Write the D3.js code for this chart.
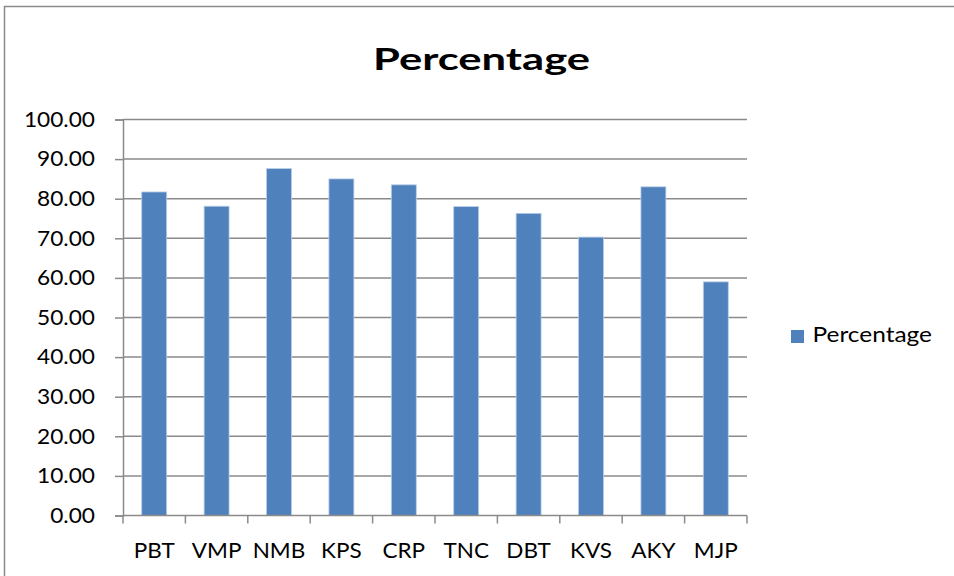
<!DOCTYPE html>
<html>
<head>
<meta charset="utf-8">
<script src="https://cdn.jsdelivr.net/npm/d3@7"></script>
<style>
  body { margin: 0; background: #fff; }
  svg { display: block; font-family: Lato, "Open Sans", sans-serif; }
</style>
</head>
<body>
<svg id="chart" width="954" height="576"></svg>
<script>
const categories = ['PBT', 'VMP', 'NMB', 'KPS', 'CRP', 'TNC', 'DBT', 'KVS', 'AKY', 'MJP'];
const percentage = [81.7, 78.1, 87.6, 85.0, 83.5, 78.0, 76.3, 70.3, 83.0, 59.0];
const yTicks = [0, 10, 20, 30, 40, 50, 60, 70, 80, 90, 100];
const seriesName = 'Percentage';

const svg = d3.select('#chart');
const plot = { left: 123, right: 747, top: 119.5, bottom: 515.5 };

// the reference text is a little wider than Lato, so stretch it
function stretch(sel, k) {
  sel.each(function () {
    const w = this.getComputedTextLength();
    d3.select(this).attr('textLength', w * k).attr('lengthAdjust', 'spacingAndGlyphs');
  });
}

// outer chart frame (runs off right and bottom edge)
svg.append('path')
  .attr('d', 'M4.5,580 L4.5,6.5 L960,6.5')
  .attr('fill', 'none')
  .attr('stroke', '#8a8a8a')
  .attr('stroke-width', 1.5);

const x = d3.scaleBand()
  .domain(categories)
  .range([plot.left, plot.right])
  .paddingInner(0.6)
  .paddingOuter(0.3);

const y = d3.scaleLinear()
  .domain([0, 100])
  .range([plot.bottom, plot.top]);

// gridlines
svg.append('g')
  .selectAll('line')
  .data(yTicks.filter(d => d > 0))
  .enter()
  .append('line')
  .attr('x1', plot.left)
  .attr('x2', plot.right)
  .attr('y1', d => y(d))
  .attr('y2', d => y(d))
  .attr('stroke', '#8a8a8a')
  .attr('stroke-width', 1.5);

// bars
svg.append('g')
  .selectAll('rect')
  .data(categories)
  .enter()
  .append('rect')
  .attr('x', d => x(d))
  .attr('width', x.bandwidth())
  .attr('y', (d, i) => y(percentage[i]))
  .attr('height', (d, i) => y(0) - y(percentage[i]))
  .attr('fill', '#4f81bd')
  .attr('stroke', '#b9cde5')
  .attr('stroke-width', 0.8);

// y axis
const yAxis = svg.append('g')
  .attr('transform', `translate(${plot.left},0)`)
  .call(d3.axisLeft(y).tickValues(yTicks).tickFormat(d3.format('.2f')).tickSize(8).tickPadding(20));
yAxis.select('.domain').attr('stroke', '#8a8a8a').attr('stroke-width', 1.5);
yAxis.selectAll('.tick line').attr('stroke', '#8a8a8a').attr('stroke-width', 1.5);
yAxis.selectAll('.tick text')
  .attr('fill', '#000')
  .style('font-size', '21px')
  .style('font-family', 'Lato, "Open Sans", sans-serif')
  .call(stretch, 1.08);

// x axis: ticks at category boundaries
const xAxis = svg.append('g')
  .attr('transform', `translate(0,${plot.bottom})`);
xAxis.append('line')
  .attr('x1', plot.left).attr('x2', plot.right)
  .attr('stroke', '#8a8a8a').attr('stroke-width', 1.5);
const step = (plot.right - plot.left) / categories.length;
xAxis.selectAll('line.tk')
  .data(d3.range(categories.length + 1))
  .enter()
  .append('line')
  .attr('class', 'tk')
  .attr('x1', i => plot.left + i * step)
  .attr('x2', i => plot.left + i * step)
  .attr('y1', 0).attr('y2', 8)
  .attr('stroke', '#8a8a8a').attr('stroke-width', 1.5);
xAxis.selectAll('text')
  .data(categories)
  .enter()
  .append('text')
  .attr('x', d => x(d) + x.bandwidth() / 2)
  .attr('y', 42.5)
  .attr('text-anchor', 'middle')
  .style('font-size', '21px')
  .text(d => d)
  .call(stretch, 1.07);

// title
svg.append('text')
  .attr('x', 481.5)
  .attr('y', 69.5)
  .attr('text-anchor', 'middle')
  .style('font-size', '31px')
  .style('font-weight', 'bold')
  .text(seriesName)
  .attr('textLength', 217)
  .attr('lengthAdjust', 'spacingAndGlyphs');

// legend
const legend = svg.append('g').attr('transform', 'translate(791,330)');
legend.append('rect')
  .attr('width', 13).attr('height', 13)
  .attr('fill', '#4f81bd');
legend.append('text')
  .attr('x', 21.5)
  .attr('y', 12)
  .style('font-size', '21px')
  .text(seriesName)
  .attr('textLength', 119.5)
  .attr('lengthAdjust', 'spacingAndGlyphs');
</script>
</body>
</html>
